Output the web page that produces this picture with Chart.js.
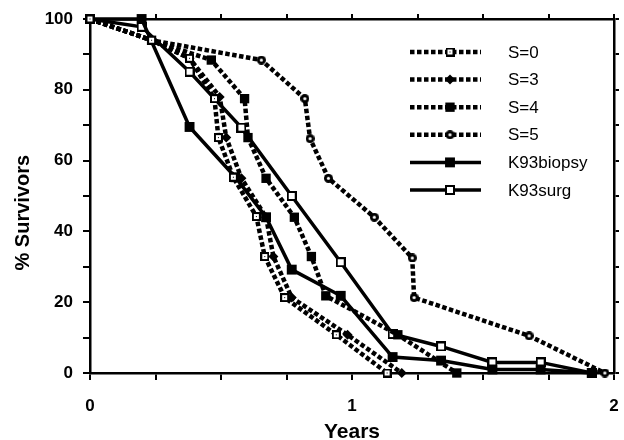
<!DOCTYPE html>
<html><head><meta charset="utf-8">
<script src="https://cdn.jsdelivr.net/npm/chart.js@4/dist/chart.umd.min.js"></script>
<style>html,body{margin:0;padding:0;background:#fff}</style>
</head><body>
<canvas id="c" width="624" height="440"></canvas>
<script>
// ---- data ----
const seriesNames = ['S=0', 'S=3', 'S=4', 'S=5', 'K93biopsy', 'K93surg'];

const s0Years = [0, 0.235, 0.38, 0.475, 0.49, 0.547, 0.635, 0.667, 0.743, 0.94, 1.134];
const s0Pct   = [100, 94, 88.9, 77.5, 66.5, 55.3, 44.2, 32.9, 21.3, 10.8, 0];

const s3Years = [0, 0.235, 0.38, 0.495, 0.52, 0.578, 0.672, 0.70, 0.77, 0.983, 1.19];
const s3Pct   = [100, 94, 88.9, 78, 66.5, 55, 44, 32.9, 21.3, 10.8, 0];

const s4Years = [0, 0.235, 0.463, 0.59, 0.603, 0.672, 0.78, 0.845, 0.90, 1.175, 1.40];
const s4Pct   = [100, 94, 88.4, 77.5, 66.5, 55, 44, 32.9, 21.8, 10.8, 0];

const s5Years = [0, 0.235, 0.654, 0.82, 0.84, 0.91, 1.085, 1.23, 1.237, 1.676, 1.965];
const s5Pct   = [100, 94, 88.4, 77.5, 66.2, 55, 44, 32.5, 21.3, 10.5, 0];

const biopsyYears = [0, 0.197, 0.38, 0.555, 0.672, 0.77, 0.957, 1.155, 1.34, 1.536, 1.72, 1.915];
const biopsyPct   = [100, 100, 69.5, 55.3, 44, 29.2, 21.8, 4.5, 3.5, 1, 1, 0];

const surgYears = [0, 0.197, 0.38, 0.578, 0.77, 0.957, 1.155, 1.34, 1.536, 1.72, 1.915];
const surgPct   = [100, 97.8, 85.1, 69.3, 50, 31.3, 11, 7.5, 3, 3, 0];

const xLabeledTicks = [0, 1, 2];
const yLabeledTicks = [0, 20, 40, 60, 80, 100];

// ---- marker images ----
function marker(size, draw) {
  const c = document.createElement('canvas');
  c.width = size; c.height = size;
  draw(c.getContext('2d'), size);
  return c;
}
const mS0 = marker(9, (g) => {
  g.fillStyle = '#000'; g.fillRect(0, 0, 9, 9);
  g.fillStyle = '#fff'; g.fillRect(2, 2, 5, 5);
  g.fillStyle = '#000'; g.fillRect(4, 4, 1, 1);
});
const mS5 = marker(9, (g) => {
  g.fillStyle = '#000'; g.beginPath(); g.arc(4.5, 4.5, 4.5, 0, Math.PI * 2); g.fill();
  g.fillStyle = '#fff'; g.beginPath(); g.arc(4.5, 4.5, 1.6, 0, Math.PI * 2); g.fill();
});
const mSurg = marker(10, (g) => {
  g.fillStyle = '#000'; g.fillRect(0, 0, 10, 10);
  g.fillStyle = '#fff'; g.fillRect(2, 2, 6, 6);
});

function pts(xs, ys) { return xs.map((x, i) => ({ x: x, y: ys[i] })); }

const DOT = [4.5, 2.5];
const common = { showLine: true, tension: 0, borderColor: '#000', backgroundColor: '#000',
  pointBorderColor: '#000', pointBackgroundColor: '#000', clip: false, borderCapStyle: 'butt' };

const datasets = [
  Object.assign({}, common, { label: seriesNames[0], data: pts(s0Years, s0Pct), borderWidth: 4.5, borderDash: DOT, pointStyle: mS0, pointRadius: 4.5 }),
  Object.assign({}, common, { label: seriesNames[1], data: pts(s3Years, s3Pct), borderWidth: 4.5, borderDash: DOT, pointStyle: 'rectRot', pointRadius: 5, pointBorderWidth: 0 }),
  Object.assign({}, common, { label: seriesNames[2], data: pts(s4Years, s4Pct), borderWidth: 4.5, borderDash: DOT, pointStyle: 'rect', pointRadius: 6.6, pointBorderWidth: 0 }),
  Object.assign({}, common, { label: seriesNames[3], data: pts(s5Years, s5Pct), borderWidth: 4.5, borderDash: DOT, pointStyle: mS5, pointRadius: 4.5 }),
  Object.assign({}, common, { label: seriesNames[4], data: pts(biopsyYears, biopsyPct), borderWidth: 3.5, pointStyle: 'rect', pointRadius: 7, pointBorderWidth: 0 }),
  Object.assign({}, common, { label: seriesNames[5], data: pts(surgYears, surgPct), borderWidth: 3.5, pointStyle: mSurg, pointRadius: 5 })
];

const legendPlugin = {
  id: 'lineLegend',
  afterDatasetsDraw(chart) {
    const ctx = chart.ctx;
    ctx.save();
    chart.data.datasets.forEach((ds, i) => {
      const y = 52 + i * 27.6;
      ctx.strokeStyle = '#000';
      ctx.lineWidth = ds.borderWidth;
      ctx.lineCap = 'butt';
      ctx.setLineDash(ds.borderDash || []);
      ctx.beginPath(); ctx.moveTo(410, y); ctx.lineTo(481, y); ctx.stroke();
      ctx.setLineDash([]);
      const ps = ds.pointStyle;
      ctx.fillStyle = '#000';
      if (ps instanceof HTMLCanvasElement) {
        ctx.drawImage(ps, 450 - ps.width / 2, y - ps.height / 2);
      } else {
        Chart.helpers.drawPoint(ctx, { pointStyle: ps, radius: ds.pointRadius, rotation: 0, borderWidth: 0 }, 450, y);
      }
      ctx.fillStyle = '#000';
      ctx.font = '17px "Liberation Sans", Arial, sans-serif';
      ctx.textBaseline = 'middle';
      ctx.textAlign = 'left';
      ctx.fillText(ds.label, 508, y + 1);
    });
    ctx.restore();
  }
};

const FAM = '"Liberation Sans", Arial, sans-serif';
const xTickFont = { family: FAM, size: 17, weight: 'bold', lineHeight: 2.7 };
const yTickFont = { family: FAM, size: 17, weight: 'bold', lineHeight: 1 };
const xTitleFont = { family: FAM, size: 21, weight: 'bold', lineHeight: 0.7 };
const yTitleFont = { family: FAM, size: 20, weight: 'bold', lineHeight: 1 };
const axisGrid = { drawOnChartArea: false, drawTicks: true, tickLength: 7, color: '#000', lineWidth: 2 };
const axisBorder = { display: true, color: '#000', width: 2.5 };

new Chart(document.getElementById('c'), {
  type: 'scatter',
  data: { datasets: datasets },
  options: {
    responsive: false, animation: false, devicePixelRatio: 1,
    layout: { padding: 0 },
    plugins: { legend: { display: false }, tooltip: { enabled: false } },
    scales: {
      x: {
        type: 'linear', position: 'bottom', min: 0, max: 2,
        afterFit(s) { s.height = 67; },
        ticks: { stepSize: 0.25, autoSkip: false, maxRotation: 0, color: '#000', font: xTickFont, padding: 3,
          callback: (v) => xLabeledTicks.includes(v) ? String(v) : '' },
        grid: axisGrid, border: axisBorder,
        title: { display: true, text: 'Years', color: '#000', font: xTitleFont, padding: { top: 0, bottom: 0 } }
      },
      x2: {
        type: 'linear', position: 'top', min: 0, max: 2,
        afterFit(s) { s.height = 19; },
        ticks: { stepSize: 0.25, display: true, callback: () => '', font: { size: 1 }, padding: 0 },
        grid: Object.assign({}, axisGrid, { tickLength: 5 }), border: axisBorder
      },
      y: {
        type: 'linear', position: 'left', min: 0, max: 100,
        afterFit(s) { s.width = 90; },
        ticks: { stepSize: 10, autoSkip: false, color: '#000', font: yTickFont, padding: 10,
          callback: (v) => yLabeledTicks.includes(v) ? String(v) : '' },
        grid: axisGrid, border: axisBorder,
        title: { display: true, text: '% Survivors      ', color: '#000', font: yTitleFont, padding: { top: 13, bottom: 0 } }
      },
      y2: {
        type: 'linear', position: 'right', min: 0, max: 100,
        afterFit(s) { s.width = 10; },
        ticks: { stepSize: 10, display: true, callback: () => '', font: { size: 1 }, padding: 0 },
        grid: Object.assign({}, axisGrid, { tickLength: 5 }), border: axisBorder
      }
    }
  },
  plugins: [legendPlugin]
});
</script>
</body></html>
